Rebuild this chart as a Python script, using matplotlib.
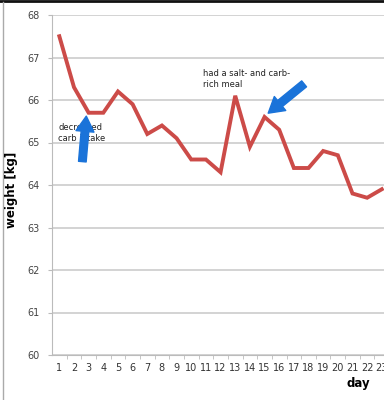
import matplotlib
matplotlib.use("Agg")
import matplotlib.pyplot as plt
from matplotlib.lines import Line2D

days = list(range(1, 24))
weight = [67.5, 66.3, 65.7, 65.7, 66.2, 65.9, 65.2, 65.4, 65.1, 64.6, 64.6, 64.3,
          66.1, 64.9, 65.6, 65.3, 64.4, 64.4, 64.8, 64.7, 63.8, 63.7, 63.9]
yticks = [60, 61, 62, 63, 64, 65, 66, 67, 68]
note1 = "decreased\ncarb intake"
note2 = "had a salt- and carb-\nrich meal"

fig = plt.figure(figsize=(3.84, 4.0), dpi=100)
ax = fig.add_axes([52/384, 45/400, 1 - 52/384, 340/400])

ax.plot(days, weight, color="#cc4b48", lw=2.8, solid_joinstyle="miter", zorder=3)
ax.set_xlim(0.5, 23.15)
ax.set_ylim(60, 68)
ax.set_yticks(yticks)
ax.set_xticks(days)
ax.set_xticks([d + 0.5 for d in days[:-1]], minor=True)
ax.tick_params(axis="x", which="major", length=0, pad=6, labelsize=7, labelcolor="#333333")
ax.tick_params(axis="x", which="minor", length=3, color="#bbbbbb")
ax.tick_params(axis="y", length=3, color="#bbbbbb", labelsize=7, labelcolor="#444444", pad=6)
ax.grid(axis="y", color="#cccccc", lw=1.2)
ax.set_axisbelow(True)
for s in ["top", "right"]:
    ax.spines[s].set_visible(False)
ax.spines["left"].set_color("#bbbbbb")
ax.spines["bottom"].set_color("#bbbbbb")

ax.text(0.93, 65.45, note1, fontsize=6, color="#222222", va="top", ha="left", zorder=4)
ax.text(10.8, 66.72, note2, fontsize=6, color="#222222", va="top", ha="left", zorder=4)

arrow_kw = dict(arrowstyle="simple,head_length=1.1,head_width=1.3,tail_width=0.55",
                color="#1a73d9", shrinkA=0, shrinkB=0)
ax.annotate("", xy=(2.84, 65.62), xytext=(2.57, 64.55), arrowprops=arrow_kw, zorder=5)
ax.annotate("", xy=(15.25, 65.69), xytext=(17.7, 66.38), arrowprops=arrow_kw, zorder=5)

fig.text(12/384, 1 - 190/400, "weight [kg]", rotation=90, fontsize=8.5, fontweight="bold",
         ha="center", va="center")
fig.text(358/384, 1 - 384/400, "day", fontsize=8.5, fontweight="bold", ha="center", va="center")

fig.add_artist(Line2D([0, 1], [0.997, 0.997], transform=fig.transFigure, color="#111111", lw=2))
fig.add_artist(Line2D([2.5/384, 2.5/384], [0, 0.995], transform=fig.transFigure, color="#aaaaaa", lw=1))

fig.savefig("out.png", dpi=100)
